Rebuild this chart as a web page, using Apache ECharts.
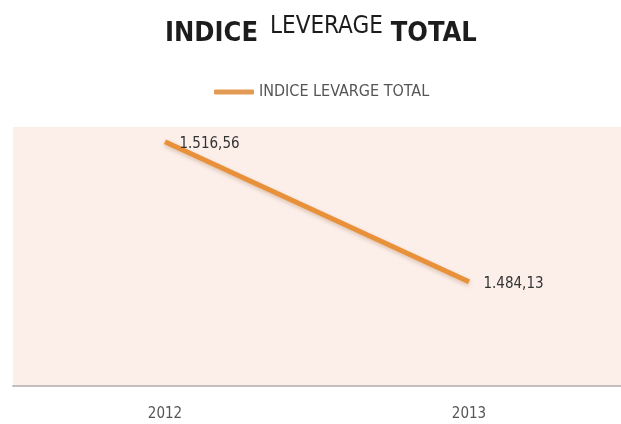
<!DOCTYPE html>
<html><head><meta charset="utf-8">
<script src="https://cdn.jsdelivr.net/npm/echarts@6/dist/echarts.min.js"></script>
<style>html,body{margin:0;padding:0;background:#fff}#c{width:621px;height:424px}</style>
</head><body><div id="c"></div>
<script>
const categories = ['2012', '2013'];
const seriesName = 'INDICE LEVARGE TOTAL';
const values = [1516.56, 1484.13];

function fmt(v) {
  const parts = v.toFixed(2).split('.');
  const int = parts[0].replace(/\B(?=(\d{3})+(?!\d))/g, '.');
  return int + ',' + parts[1];
}

const FN = '"Liberation Sans Narrow", "DejaVu Sans Condensed", sans-serif';

const chart = echarts.init(document.getElementById('c'));
chart.setOption({
  backgroundColor: '#ffffff',
  title: {
    text: '{a|INDICE}{b|LEVERAGE}{c|TOTAL}',
    left: 160,
    top: 8,
    textStyle: {
      rich: {
        a: { fontFamily: FN, fontWeight: 'bold', fontSize: 27, color: '#1c1c1c', verticalAlign: 'bottom', lineHeight: 34 },
        b: { fontFamily: FN, fontWeight: 'normal', fontSize: 24, color: '#1c1c1c', verticalAlign: 'bottom', lineHeight: 26, padding: [0, 0, 8, 12] },
        c: { fontFamily: FN, fontWeight: 'bold', fontSize: 27, color: '#1c1c1c', verticalAlign: 'bottom', lineHeight: 34, padding: [0, 0, 0, 8] }
      }
    }
  },
  legend: {
    data: [seriesName],
    top: 79,
    left: 209,
    itemWidth: 40,
    itemHeight: 5,
    icon: 'roundRect',
    itemGap: 4,
    itemStyle: { color: '#e39a55', opacity: 1 },
    textStyle: { fontFamily: FN, fontSize: 16, color: '#555555' }
  },
  grid: {
    left: 13, right: 0, top: 127, bottom: 38,
    show: true,
    backgroundColor: '#fcefea',
    borderWidth: 0
  },
  xAxis: {
    type: 'category',
    data: categories,
    boundaryGap: true,
    axisLine: { show: true, lineStyle: { color: '#c4bfbd', width: 2 } },
    axisTick: { show: false },
    axisLabel: { margin: 21, fontFamily: FN, fontSize: 15, color: '#555555' }
  },
  yAxis: {
    type: 'value',
    min: 1460,
    max: 1520,
    show: false,
    splitLine: { show: false }
  },
  series: [{
    name: seriesName,
    type: 'line',
    data: values,
    symbol: 'circle',
    symbolSize: 1,
    showSymbol: true,
    itemStyle: { color: 'rgba(0,0,0,0)' },
    lineStyle: {
      width: 5,
      color: '#e8913a',
      shadowColor: 'rgba(120,60,0,0.25)',
      shadowBlur: 4,
      shadowOffsetY: 2
    },
    label: {
      show: true,
      position: 'right',
      distance: 14,
      offset: [0, 2],
      formatter: p => fmt(p.value),
      fontFamily: FN,
      fontSize: 15,
      color: '#333333'
    },
    animation: false
  }],
  animation: false
});
</script></body></html>
